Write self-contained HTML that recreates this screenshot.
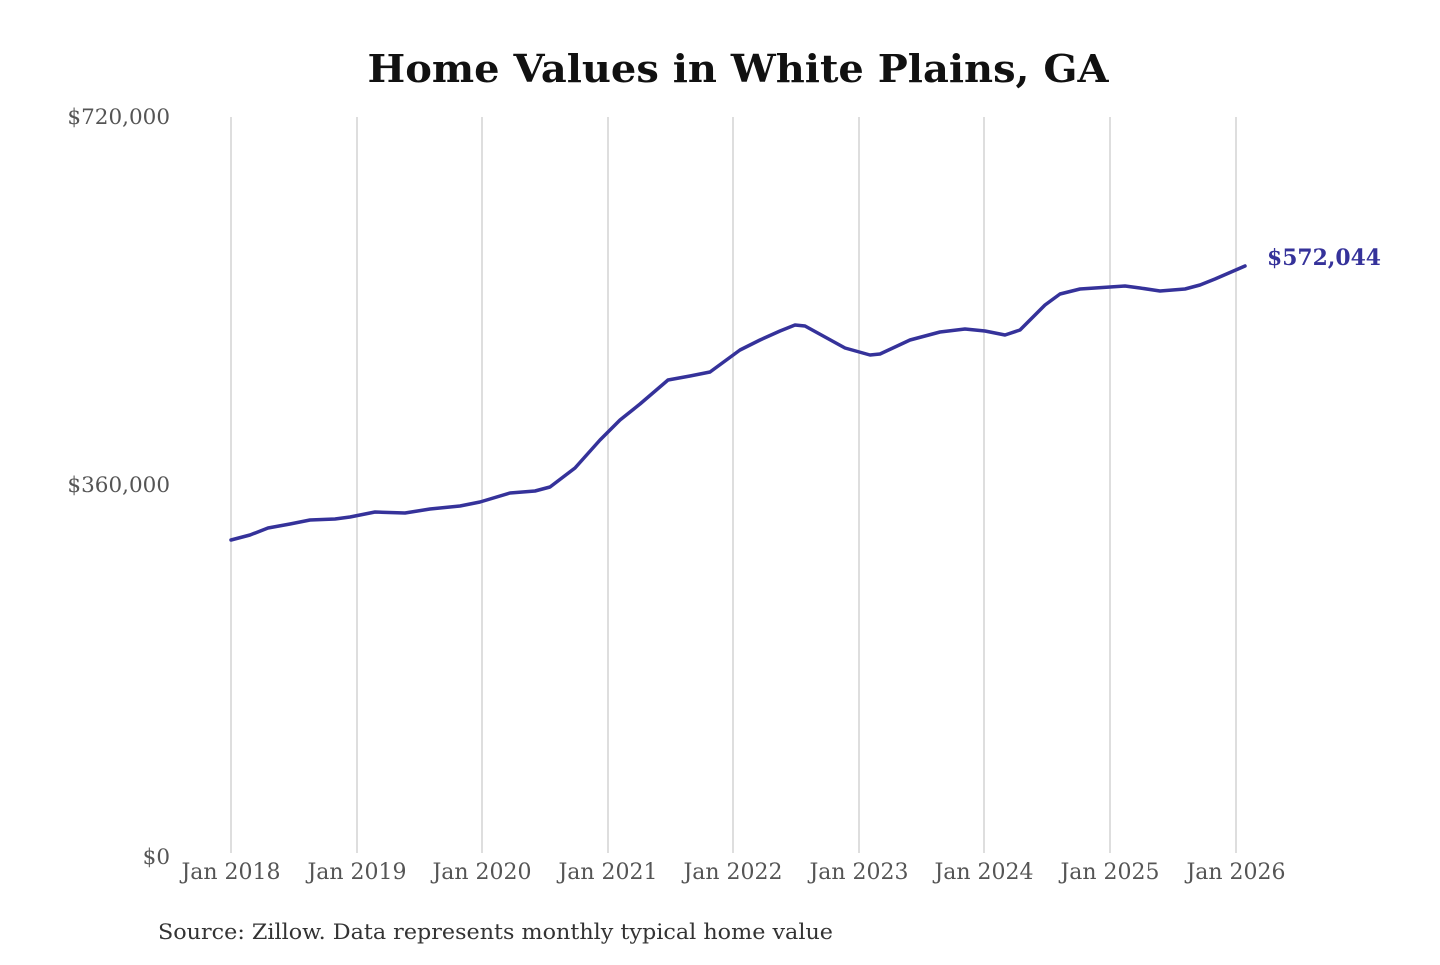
<!DOCTYPE html>
<html><head><meta charset="utf-8"><style>
body{margin:0;background:#fff;width:1440px;height:960px;overflow:hidden}
svg text{font-family:"DejaVu Serif","Liberation Serif",serif}
</style></head><body>
<svg width="1440" height="960" xmlns="http://www.w3.org/2000/svg">
<text x="738" y="82" text-anchor="middle" font-size="38" font-weight="bold" fill="#111" textLength="741" lengthAdjust="spacingAndGlyphs">Home Values in White Plains, GA</text>
<g stroke="#c8c8c8" stroke-width="1.2">
<line x1="231" y1="117" x2="231" y2="853"/><line x1="357" y1="117" x2="357" y2="853"/>
<line x1="482" y1="117" x2="482" y2="853"/><line x1="608" y1="117" x2="608" y2="853"/>
<line x1="733" y1="117" x2="733" y2="853"/><line x1="859" y1="117" x2="859" y2="853"/>
<line x1="984" y1="117" x2="984" y2="853"/><line x1="1110" y1="117" x2="1110" y2="853"/>
<line x1="1236" y1="117" x2="1236" y2="853"/>
</g>
<g font-size="21.5" fill="#555" text-anchor="end">
<text x="170" y="124">$720,000</text><text x="170" y="492">$360,000</text><text x="170" y="864">$0</text>
</g>
<g font-size="22" fill="#555" text-anchor="middle">
<text x="231" y="879">Jan 2018</text><text x="357" y="879">Jan 2019</text><text x="482" y="879">Jan 2020</text>
<text x="608" y="879">Jan 2021</text><text x="733" y="879">Jan 2022</text><text x="859" y="879">Jan 2023</text>
<text x="984" y="879">Jan 2024</text><text x="1110" y="879">Jan 2025</text><text x="1236" y="879">Jan 2026</text>
</g>
<polyline fill="none" stroke="#35329a" stroke-width="3.5" stroke-linejoin="round" stroke-linecap="round" points="231,540 250,535 268,528 290,524 310,520 335,519 350,517 375,512 405,513 430,509 460,506 480,502 510,493 535,491 550,487 575,468 600,440 620,420 640,404 668,380 690,376 710,372 740,350 760,340 780,331 795,325 805,326 825,337 845,348 870,355 880,354 910,340 940,332 965,329 985,331 1005,335 1020,330 1045,305 1060,294 1080,289 1110,287 1125,286 1140,288 1160,291 1185,289 1200,285 1215,279 1245,266"/>
<text x="1267" y="265" font-size="22" font-weight="bold" fill="#35329a" textLength="114" lengthAdjust="spacingAndGlyphs">$572,044</text>
<text x="158" y="939" font-size="21" fill="#333" textLength="675" lengthAdjust="spacingAndGlyphs">Source: Zillow. Data represents monthly typical home value</text>
</svg>
</body></html>
